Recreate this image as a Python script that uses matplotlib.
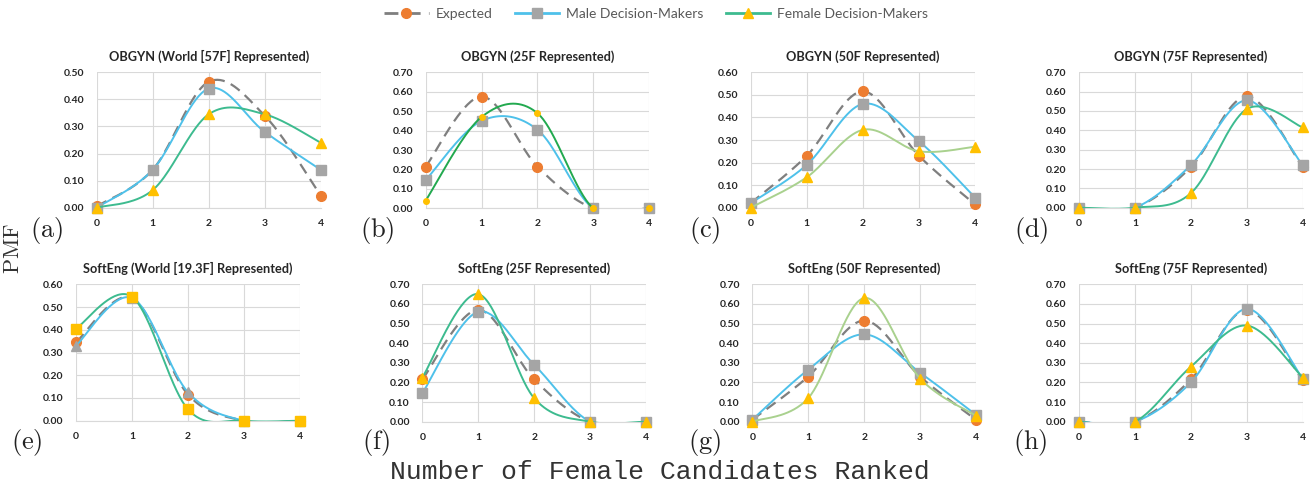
import numpy as np
import matplotlib
matplotlib.use("Agg")
import matplotlib.pyplot as plt
from matplotlib.lines import Line2D

plt.rcParams['mathtext.fontset'] = 'cm'

# ---------------- data ----------------
x_vals = [0, 1, 2, 3, 4]
x_ticks = ["0", "1", "2", "3", "4"]

titles = [
    "OBGYN (World [57F] Represented)",
    "OBGYN (25F Represented)",
    "OBGYN (50F Represented)",
    "OBGYN (75F Represented)",
    "SoftEng (World [19.3F] Represented)",
    "SoftEng (25F Represented)",
    "SoftEng (50F Represented)",
    "SoftEng (75F Represented)",
]
panel_labels = ["(a)", "(b)", "(c)", "(d)", "(e)", "(f)", "(g)", "(h)"]

expected = [
    [0.005, 0.14, 0.465, 0.34, 0.045],
    [0.215, 0.575, 0.215, 0.0, 0.0],
    [0.02, 0.23, 0.515, 0.23, 0.015],
    [0.0, 0.0, 0.21, 0.575, 0.21],
    [0.345, 0.54, 0.115, 0.0, 0.0],
    [0.215, 0.57, 0.215, 0.0, 0.0],
    [0.01, 0.23, 0.515, 0.23, 0.01],
    [0.0, 0.0, 0.215, 0.57, 0.21],
]
male = [
    [0.0, 0.14, 0.44, 0.28, 0.14],
    [0.145, 0.45, 0.405, 0.0, 0.0],
    [0.02, 0.19, 0.46, 0.295, 0.045],
    [0.0, 0.0, 0.22, 0.555, 0.22],
    [0.33, 0.54, 0.125, 0.0, 0.0],
    [0.145, 0.56, 0.29, 0.0, 0.0],
    [0.01, 0.265, 0.445, 0.25, 0.035],
    [0.0, 0.0, 0.2, 0.575, 0.22],
]
female = [
    [0.0, 0.065, 0.345, 0.345, 0.24],
    [0.04, 0.47, 0.49, 0.0, 0.0],
    [0.0, 0.135, 0.345, 0.25, 0.27],
    [0.0, 0.0, 0.075, 0.51, 0.415],
    [0.405, 0.545, 0.05, 0.0, 0.0],
    [0.225, 0.65, 0.12, 0.0, 0.0],
    [0.0, 0.12, 0.63, 0.22, 0.03],
    [0.0, 0.0, 0.28, 0.49, 0.225],
]
y_max = [0.5, 0.7, 0.6, 0.7, 0.6, 0.7, 0.7, 0.7]

# ---------------- styles ----------------
C_EXP_LINE = "#7f7f7f"
C_EXP_MK = "#ed7d31"
C_MALE_LINE = "#4ec1ea"
C_MALE_MK = "#a5a5a5"
C_FEM_MK = "#ffc000"
fem_line_colors = ["#3dbb8f", "#22a94f", "#a9d18e", "#3dbb8f",
                   "#3dbb8f", "#3dbb8f", "#a9d18e", "#3dbb8f"]
male_markers = ["s", "s", "s", "s", "^", "s", "s", "s"]
fem_markers = ["^", "o", "^", "^", "s", "^", "^", "^"]
fem_msizes = [7, 4, 7, 7, 7, 7, 7, 7]

# axes rectangles in pixels: (left, right, y_bottom, y_top)
W, H = 1312, 487
rects_px = [
    (96.7, 320.7, 207.7, 72.3),
    (425.7, 649.0, 208.3, 72.3),
    (750.7, 975.0, 207.7, 72.3),
    (1079.0, 1302.7, 207.7, 72.3),
    (76.0, 300.0, 420.7, 284.3),
    (422.3, 646.0, 421.7, 284.3),
    (752.3, 976.0, 421.7, 284.3),
    (1079.0, 1302.7, 421.7, 284.3),
]
label_pos_px = [(47, 230), (377, 230), (705, 230), (1031, 230),
                (27, 442), (376, 442), (705, 442), (1030, 442)]


def smooth(xs, ys, n=40):
    """Excel-style smoothed line (Catmull-Rom Bezier)."""
    p = np.column_stack([xs, ys]).astype(float)
    out = []
    m = len(p)
    t = np.linspace(0, 1, n)[:, None]
    for i in range(m - 1):
        p0 = p[i - 1] if i > 0 else p[i]
        p1 = p[i]
        p2 = p[i + 1]
        p3 = p[i + 2] if i + 2 < m else p[i + 1]
        c1 = p1 + (p2 - p0) / 6.0
        c2 = p2 - (p3 - p1) / 6.0
        seg = ((1 - t) ** 3) * p1 + 3 * ((1 - t) ** 2) * t * c1 + \
            3 * (1 - t) * t ** 2 * c2 + t ** 3 * p2
        out.append(seg if i == 0 else seg[1:])
    s = np.vstack(out)
    return s[:, 0], s[:, 1]


fig = plt.figure(figsize=(W / 100, H / 100), dpi=100)
TICK_FONT = dict(family="Lato", weight="bold", size=7.5)

for k in range(8):
    l, r, yb, yt = rects_px[k]
    ax = fig.add_axes([l / W, 1 - yb / H, (r - l) / W, (yb - yt) / H])
    ax.set_xlim(0, 4)
    ax.set_ylim(0, y_max[k])
    yt_vals = np.arange(0, y_max[k] + 1e-9, 0.1)
    ax.set_yticks(yt_vals)
    ax.set_yticklabels([f"{v:.2f}" for v in yt_vals], fontdict=TICK_FONT)
    ax.set_xticks(x_vals)
    ax.set_xticklabels(x_ticks, fontdict=TICK_FONT)
    ax.tick_params(length=0, pad=8, colors="#262626")
    ax.tick_params(axis="y", pad=9)
    ax.grid(True, color="#d9d9d9", linewidth=0.8)
    ax.set_axisbelow(True)
    for sp in ["top", "right", "left"]:
        ax.spines[sp].set_visible(False)
    ax.spines["bottom"].set_color("#d9d9d9")
    ax.spines["bottom"].set_linewidth(0.8)

    # Expected
    sx, sy = smooth(x_vals, expected[k])
    ax.plot(sx, sy, color=C_EXP_LINE, lw=1.6, ls=(0, (5, 3)), zorder=3)
    ax.plot(x_vals, expected[k], ls="none", marker="o", ms=7,
            color=C_EXP_MK, clip_on=False, zorder=3.1)
    # Male
    sx, sy = smooth(x_vals, male[k])
    ax.plot(sx, sy, color=C_MALE_LINE, lw=1.4, zorder=4)
    ax.plot(x_vals, male[k], ls="none", marker=male_markers[k], ms=7,
            color=C_MALE_MK, clip_on=False, zorder=4.1)
    # Female
    sx, sy = smooth(x_vals, female[k])
    ax.plot(sx, sy, color=fem_line_colors[k], lw=1.4, zorder=5)
    ax.plot(x_vals, female[k], ls="none", marker=fem_markers[k],
            ms=fem_msizes[k], color=C_FEM_MK, clip_on=False, zorder=5.1)

    ax.set_title(titles[k], fontsize=9.2, family="Lato", weight="bold",
                 color="#262626", pad=8)

    lx, ly = label_pos_px[k]
    fig.text(lx / W, 1 - ly / H, r"$\mathrm{" + panel_labels[k] + "}$",
             fontsize=19, ha="center", va="center", color="#222222")

fig.text(13 / W, 1 - 248 / H, r"$\mathrm{PMF}$", rotation=90, fontsize=16,
         ha="center", va="center", color="#333333")
fig.text(660 / W, 1 - 472 / H, "Number of Female Candidates Ranked",
         family="Liberation Mono", fontsize=19, ha="center", va="center",
         color="#333333")

handles = [
    Line2D([], [], color=C_EXP_LINE, lw=2, ls=(0, (5, 3)), marker="o",
           ms=7, mfc=C_EXP_MK, mec=C_EXP_MK),
    Line2D([], [], color=C_MALE_LINE, lw=2, marker="s", ms=7,
           mfc=C_MALE_MK, mec=C_MALE_MK),
    Line2D([], [], color="#3dbb8f", lw=2, marker="^", ms=7,
           mfc=C_FEM_MK, mec=C_FEM_MK),
]
fig.legend(handles, ["Expected", "Male Decision-Makers", "Female Decision-Makers"],
           loc="center", bbox_to_anchor=(0.5, 1 - 14 / H), ncol=3, frameon=False,
           handlelength=3.2, columnspacing=1.6, handletextpad=0.5,
           prop=dict(family="Lato", size=10), labelcolor="#595959")

fig.savefig("out.png", dpi=100)
